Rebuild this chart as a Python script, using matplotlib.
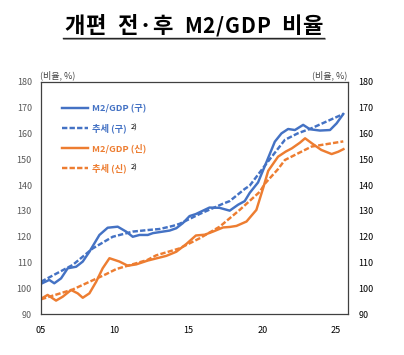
import matplotlib
matplotlib.use("Agg")
import matplotlib.pyplot as plt
from matplotlib.lines import Line2D

plt.rcParams['font.family'] = ['Noto Sans CJK KR', 'DejaVu Sans']

# ---- data ----
old_years = [2005.0, 2005.56, 2005.9, 2006.36, 2006.81, 2007.38, 2007.83, 2008.28, 2008.96, 2009.52,
             2010.2, 2010.77, 2011.22, 2011.68, 2012.24, 2012.58, 2013.26, 2013.72, 2014.17, 2014.62,
             2015.07, 2015.5, 2016.42, 2017.1, 2017.79, 2018.36, 2018.81, 2019.15, 2019.71, 2020.29,
             2020.85, 2021.3, 2021.75, 2022.21, 2022.77, 2023.23, 2023.91, 2024.59, 2025.04, 2025.49]
old_vals = [101.8, 103.3, 102.0, 103.9, 107.8, 108.4, 110.4, 114.2, 120.7, 123.5,
            123.9, 122.0, 120.0, 120.7, 120.7, 121.4, 122.0, 122.4, 123.3, 125.3,
            128.0, 128.8, 131.3, 131.2, 130.1, 132.4, 133.8, 137.0, 141.0, 149.0,
            156.8, 160.0, 161.7, 161.3, 163.3, 161.6, 161.1, 161.3, 163.9, 167.5]

old_trend_years = [2005.0, 2007.15, 2008.51, 2009.86, 2011.22, 2012.24, 2013.04, 2013.94, 2014.39,
                   2015.75, 2017.34, 2017.79, 2018.81, 2019.15, 2020.17, 2021.53, 2022.4, 2023.34, 2025.49]
old_trend_vals = [102.6, 109.1, 115.5, 120.0, 122.0, 122.6, 123.0, 124.2, 125.0,
                  128.8, 132.8, 133.8, 138.5, 139.8, 147.5, 157.5, 160.0, 162.0, 167.5]

new_years = [2005.0, 2005.45, 2006.02, 2006.47, 2007.04, 2007.49, 2007.83, 2008.28, 2008.74, 2009.18,
             2009.64, 2010.32, 2010.88, 2011.45, 2012.24, 2013.49, 2014.17, 2014.85, 2015.5, 2016.1,
             2016.66, 2017.34, 2017.8, 2018.25, 2018.93, 2019.6, 2020.05, 2020.4, 2021.07, 2021.6,
             2022.0, 2022.55, 2022.9, 2023.35, 2024.0, 2024.7, 2025.15, 2025.5]
new_vals = [96.0, 97.5, 95.3, 96.8, 99.4, 98.1, 96.4, 98.1, 102.6, 107.8,
            111.7, 110.4, 108.8, 109.3, 110.8, 112.6, 114.2, 117.2, 120.5, 120.8,
            122.0, 123.6, 123.8, 124.2, 125.9, 130.4, 138.7, 145.5, 151.0, 153.0,
            154.2, 156.4, 158.1, 156.2, 153.6, 152.0, 152.9, 153.9]

new_trend_years = [2005.0, 2007.15, 2009.4, 2010.1, 2012.2, 2012.8, 2014.39, 2015.75, 2017.11,
                   2018.47, 2019.83, 2020.17, 2021.07, 2021.53, 2023.34, 2025.49]
new_trend_vals = [95.8, 99.6, 105.5, 107.5, 111.0, 112.8, 115.5, 119.4, 123.9,
                  130.4, 137.4, 140.5, 146.2, 149.7, 154.9, 156.9]

x_ticks = [2005, 2010, 2015, 2020, 2025]
x_labels = ["05", "10", "15", "20", "25"]
y_ticks = [90, 100, 110, 120, 130, 140, 150, 160, 170, 180]

labels = ["M2/GDP (구)", "추세 (구)", "M2/GDP (신)", "추세 (신)"]
title = "개편 전·후 M2/GDP 비율"
unit = "(비율, %)"

BLUE = "#4472C4"
ORANGE = "#ED7D31"

W, H = 404, 355
fig = plt.figure(figsize=(W / 100, H / 100), dpi=100)
L, R, T, B = 41, 348.3, 81.7, 314.3
ax = fig.add_axes([L / W, 1 - B / H, (R - L) / W, (B - T) / H])

lw = 1.75
ax.plot(old_years, old_vals, color=BLUE, lw=lw, label=labels[0], solid_joinstyle='round')
ax.plot(old_trend_years, old_trend_vals, color=BLUE, lw=lw, dashes=(2.2, 0.9), label=labels[1])
ax.plot(new_years, new_vals, color=ORANGE, lw=lw, label=labels[2], solid_joinstyle='round')
ax.plot(new_trend_years, new_trend_vals, color=ORANGE, lw=lw, dashes=(2.2, 0.9), label=labels[3])

ax.set_xlim(2005, 2025.83)
ax.set_ylim(90, 180)
ax.set_xticks(x_ticks)
ax.set_xticklabels(x_labels)
ax.set_yticks(y_ticks)
ax.tick_params(axis='both', length=0, labelsize=6.5)
ax.tick_params(axis='x', pad=8.5, colors='black')
ax.tick_params(axis='y', pad=6.5, labelcolor='#595959')
for s in ax.spines.values():
    s.set_color('#404040')
    s.set_linewidth(0.9)

ax2 = ax.twinx()
ax2.set_ylim(90, 180)
ax2.set_yticks(y_ticks)
ax2.tick_params(axis='y', length=0, labelsize=6.5, pad=7.5, labelcolor='black')
for s in ax2.spines.values():
    s.set_visible(False)

leg = ax.legend(loc='upper left', bbox_to_anchor=(0.068, 0.905), frameon=False,
                handlelength=2.8, handletextpad=0.4, labelspacing=1.1,
                borderpad=0, borderaxespad=0, prop={'weight': 'bold', 'size': 6.7})
for txt, c in zip(leg.get_texts(), [BLUE, BLUE, ORANGE, ORANGE]):
    txt.set_color(c)

fig.canvas.draw()
renderer = fig.canvas.get_renderer()
inv = fig.transFigure.inverted()
for idx in (1, 3):
    bb = leg.get_texts()[idx].get_window_extent(renderer)
    x0, y0 = inv.transform((bb.x1 + 4, bb.y1 - 1))
    fig.text(x0, y0, "2)", fontsize=5.5, color='black', va='top', ha='left')

# ---- title: glyphs with slight tracking, word gaps take the remaining width ----
t_left, t_right, t_base = 64, 325, 33


def is_hangul(ch):
    return '\uac00' <= ch <= '\ud7a3'


pieces = []
for ch in title:
    fs = 16 if (is_hangul(ch) or ch == '·') else 15
    t = fig.text(0, 1 - t_base / H, ch if ch != ' ' else '', fontsize=fs,
                 fontweight='heavy', ha='left', va='baseline', color='black')
    pieces.append((ch, t))
fig.canvas.draw()
track = 0.8
widths = [0.0 if ch == ' ' else t.get_window_extent(renderer).width for ch, t in pieces]
n_space = sum(1 for ch, _ in pieces if ch == ' ')
used = sum(widths) + track * (len(pieces) - 1 - n_space)
space_w = (t_right - t_left - used) / n_space
xcur = t_left
for i, ((ch, t), w) in enumerate(zip(pieces, widths)):
    t.set_x(xcur / W)
    if ch == ' ':
        xcur += space_w
    else:
        nxt = pieces[i + 1][0] if i + 1 < len(pieces) else ' '
        xcur += w + (0 if nxt == ' ' else track)

fig.add_artist(Line2D([t_left / W, t_right / W], [1 - 39.4 / H, 1 - 39.4 / H], transform=fig.transFigure,
                      color='#9a9a9a', lw=1.2))
fig.add_artist(Line2D([(t_left - 1) / W, (t_right - 1) / W], [1 - 38.4 / H, 1 - 38.4 / H],
                      transform=fig.transFigure, color='#262626', lw=1.0))

fig.text(40 / W, 1 - 78 / H, unit, fontsize=6.5, color='#404040', ha='left', va='baseline')
fig.text(347 / W, 1 - 78 / H, unit, fontsize=6.5, color='#404040', ha='right', va='baseline')

fig.savefig("out.png", dpi=100)
